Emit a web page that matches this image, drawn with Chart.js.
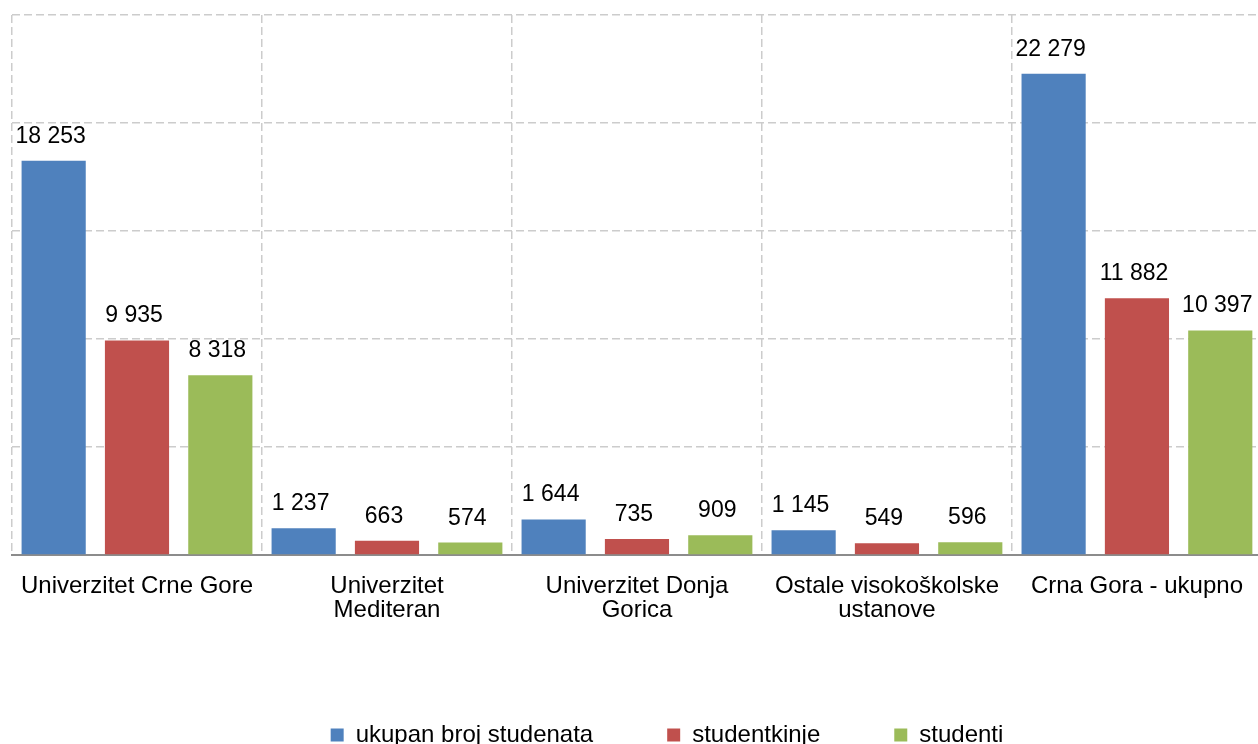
<!DOCTYPE html>
<html>
<head>
<meta charset="utf-8">
<script src="https://cdn.jsdelivr.net/npm/chart.js@4.4.1/dist/chart.umd.min.js"></script>
<style>
  html, body { margin: 0; padding: 0; background: #fff; overflow: hidden; }
  #wrap { width: 1258px; height: 744px; overflow: hidden; }
  #box { width: 1262px; height: 757px; position: relative; }
</style>
</head>
<body>
<div id="wrap"><div id="box"><canvas id="chart"></canvas></div></div>
<script>
// categories (multi-line where the picture wraps them)
const categories = [
  'Univerzitet Crne Gore',
  ['Univerzitet', 'Mediteran'],
  ['Univerzitet Donja', 'Gorica'],
  ['Ostale visokoškolske', 'ustanove'],
  'Crna Gora - ukupno'
];

const seriesNames = ['ukupan broj studenata', 'studentkinje', 'studenti'];
const ukupno = [18253, 1237, 1644, 1145, 22279];
const studentkinje = [9935, 663, 735, 549, 11882];
const studenti = [8318, 574, 909, 596, 10397];

const colors = ['#4F81BD', '#C0504D', '#9BBB59'];
const FONT = '"Liberation Sans", Arial, sans-serif';

// "18 253" style with a space as thousands separator
function fmt(v) {
  return String(v).replace(/\B(?=(\d{3})+(?!\d))/g, ' ');
}

const valueLabels = {
  id: 'valueLabels',
  afterDatasetsDraw(chart) {
    const ctx = chart.ctx;
    ctx.save();
    ctx.font = '23px ' + FONT;
    ctx.fillStyle = '#000';
    ctx.textAlign = 'center';
    ctx.textBaseline = 'alphabetic';
    chart.data.datasets.forEach((ds, i) => {
      chart.getDatasetMeta(i).data.forEach((bar, j) => {
        ctx.fillText(fmt(ds.data[j]), bar.x - 3, bar.y - 18);
      });
    });
    ctx.restore();
  }
};

// nudge the legend to the right like in the original
const legendShift = {
  id: 'legendShift',
  afterLayout(chart) {
    if (chart.legend) chart.legend.left += 60;
  }
};

const data = {
  labels: categories,
  datasets: [
    { label: seriesNames[0], data: ukupno, backgroundColor: colors[0] },
    { label: seriesNames[1], data: studentkinje, backgroundColor: colors[1] },
    { label: seriesNames[2], data: studenti, backgroundColor: colors[2] }
  ]
};

const config = {
  type: 'bar',
  data: data,
  plugins: [valueLabels, legendShift],
  options: {
    responsive: true,
    maintainAspectRatio: false,
    animation: false,
    datasets: {
      bar: { categoryPercentage: 1.0, barPercentage: 0.77 }
    },
    layout: { padding: { top: 15, left: 12, right: 0, bottom: 0 } },
    plugins: {
      tooltip: { enabled: false },
      legend: {
        position: 'bottom',
        labels: {
          boxWidth: 13,
          boxHeight: 13,
          padding: 74,
          color: '#000',
          font: { family: FONT, size: 24 }
        }
      }
    },
    scales: {
      x: {
        grid: { offset: true, color: '#cccccc', lineWidth: 1.5, tickLength: 0 },
        border: { display: true, color: '#8c8c8c', width: 2, dash: [8, 4] },
        ticks: {
          color: '#000',
          padding: 19,
          maxRotation: 0,
          font: { family: FONT, size: 24, lineHeight: 1.0 }
        },
        afterFit(scale) { scale.height = 94; }
      },
      y: {
        min: 0,
        max: 25000,
        ticks: { stepSize: 5000, display: false },
        grid: { color: '#cccccc', lineWidth: 1.5, tickLength: 0 },
        border: { display: false, dash: [8, 4] }
      }
    }
  }
};

const chart = new Chart(document.getElementById('chart'), config);
</script>
</body>
</html>
